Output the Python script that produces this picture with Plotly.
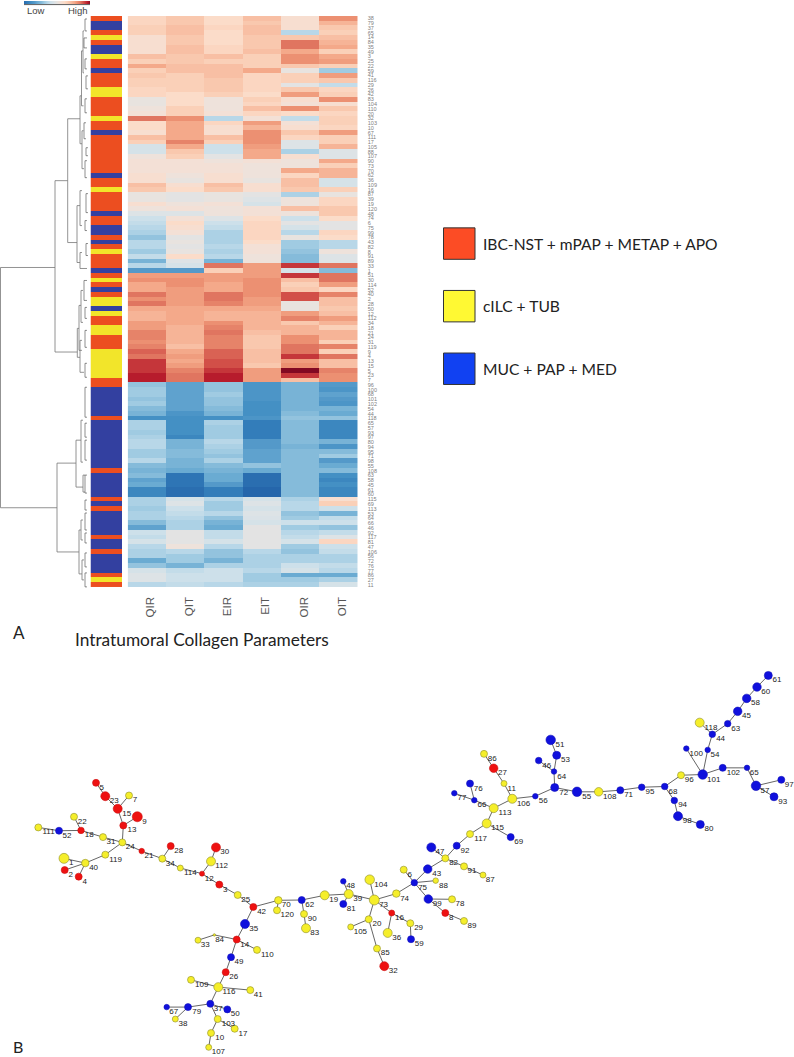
import plotly.graph_objects as go

W, H = 794, 1057

# ---------- heat map data ----------
columns = ["QIR", "QIT", "EIR", "EIT", "OIR", "OIT"]
row_labels = [38,79,37,65,14,84,35,49,3,25,22,59,41,116,29,26,42,83,104,110,20,32,103,10,67,111,17,105,88,107,
              90,73,70,62,36,109,16,87,39,19,120,48,74,6,75,99,78,43,82,8,91,89,33,1,51,30,114,52,40,2,
              28,50,12,112,34,18,21,24,31,119,9,4,13,15,5,23,7,96,100,68,101,102,54,44,118,65,57,93,97,80,
              94,95,71,98,55,108,63,58,45,61,60,115,69,113,53,64,66,46,92,117,81,47,106,56,72,76,77,86,27,11]
row_groups = list("O BB O Y O BB Y OO B OOO YY OOOO Y OO B OOOOOOOO B OO Y OOOO B OO BB O B O Y OOO B O Y O B O YY B Y OO YY OOO YYYYYY OO BBBBBB O BBBBBBBBBB O BBBBB O B O BBBBB O BB O BBBB O Y O".replace(" ", ""))
heat_rows = [
 [2.5,3.5,2,4,1.5,6],[2.5,3.5,2,3.5,1.5,4.5],[3,4,2.5,4,1.5,3.5],[3,4,2,4,-3,3],[1.5,3.5,2,3.5,3.5,4],
 [1.5,3.5,2,3.5,7,4.5],[1.5,4,2.5,3.5,7,5],[1.5,4,2.5,4,5,3],[4,3.5,4,3,6,5],[3,3.5,3,3,6,5.5],
 [5,4,4,3,3.5,3],[3,4,4,5,0,-4],[3.5,3,4,2.5,3,5.5],[3,3,3.5,2.5,3,3.5],[3,3,3.5,2.5,-0.5,-2.5],
 [2.5,3,3.5,2.5,3.5,2.5],[2.5,2,3,2,5.5,3],[0,2,0.5,3,1.5,6],[0,2,0.5,2.5,1,1.5],[0.5,3,0.5,4,6,3.5],
 [1,3,1,2.5,2,2.5],[7,6,-3,1,-2.5,3],[2,5,2.5,5.5,1,3],[2,5,1.5,4.5,1.5,2.5],[1.5,5,1.5,6,3.5,5.5],
 [4,5,4,6,2.5,3],[3,6.5,3,6,-1,3],[-1.5,5,-2,5.5,-1,4.5],[-1.5,3.5,-2,5,-3.5,-1],[0.5,3,-0.5,5,1.5,-1],
 [1,1,0.5,1,0.5,5],[1,1,1,0.5,0.5,3],[1,1,1,0.5,5,4.5],[1.5,0.5,1.5,0.5,2.5,4.5],[1.5,0,1.5,0,4,-1.5],
 [4,1.5,4,1.5,4,-1.5],[3.5,2,3.5,1.5,3.5,3],[0,-0.5,0,-0.5,-3.5,0],[0,-0.5,0,-1,0.5,2.5],[1.5,0.5,1,-1.5,0.5,2.5],
 [0.5,1,0.5,1,4,3.5],[-1,-1,0.5,1,0.5,3.5],[-2,1,-1,2,-2,2],[-2.5,2,-2,2.5,-0.5,-0.5],[-3,1.5,-2.5,2.5,-1.5,-0.5],
 [-3.5,1,-3.5,2.5,-3,2.5],[-4.5,-0.5,-3.5,2.5,0,2],[-3,0,-3.5,2,-4,-3],[-3,-0.5,-3,1,-4,-3],[-4,0,-3.5,1,-4.5,0.5],
 [-2.5,2,-3,0.5,-5,-1],[-5.5,-1,-5.5,0.5,-5,-1],[-3,-1.5,7,5.5,8.5,7],[-7,-7,3,5.5,-1.5,-5],[5.5,5.5,5.5,5.5,8.5,7],
 [6,6,5.5,6,4,7],[5,6,5,6,3,5.5],[5,5.5,5,6,3.5,2.5],[7,5.5,7,6,8,6.5],[6,5.5,7,5.5,8,4],
 [7,5.5,6.5,5.5,0,4],[5,5,5,5,0,3.5],[4.5,5,4.5,4.5,5.5,4],[4.5,5,4.5,4.5,6.5,5.5],[5.5,5,6,4.5,3.5,4.5],
 [5.5,4.5,6.5,4.5,4.5,3],[6.5,4.5,7,4,4.5,4.5],[6.5,4.5,6.5,3.5,6,4.5],[6,4.5,6.5,3.5,6,3],[6.5,4,6.5,3.5,7,6.5],
 [7.5,5,7.5,4,7,3],[7,5.5,7.5,4,8.5,7],[8.5,5,8,4,5.5,4],[8.5,5.5,8,3.5,6,4],[8.5,6.5,8.5,5.5,10,6.5],
 [9,7,9,5.5,8.5,6],[9,7,9,5.5,4,6],[-4.5,-6.5,-4.5,-7.5,-5.5,-7],[-4,-6.5,-4.5,-7.5,-5.5,-7.5],[-4,-6.5,-4,-7.5,-5.5,-6.5],
 [-4.5,-6.5,-4.5,-7.5,-5.5,-7],[-4,-6.5,-4.5,-8,-5.5,-7.5],[-5,-6.5,-5,-8,-5.5,-5.5],[-5.5,-7.5,-5.5,-8,-5,-6],[-8,-8,-8,-7.5,-4.5,-4.5],
 [-3.5,-8,-3.5,-9,-5,-8.5],[-3.5,-8,-4,-9,-5,-8.5],[-4,-8,-4,-9,-5,-8.5],[-3.5,-8.5,-4,-9,-5,-8.5],[-3,-5.5,-3,-7,-5,-5.5],
 [-3,-5.5,-3.5,-7,-5.5,-7.5],[-4,-5,-4,-6.5,-5,-5],[-4,-5,-4.5,-6.5,-5,-4],[-3,-5.5,-3.5,-6.5,-5,-7],[-5,-5.5,-5,-4.5,-5,-6],
 [-5.5,-6,-5.5,-6,-5,-5],[-5,-9.5,-6,-10,-5,-8],[-6.5,-9.5,-6,-10,-5,-8.5],[-6,-9.5,-7,-10,-5,-8],[-8.5,-10,-9,-10.5,-5,-8.5],
 [-8.5,-10,-9,-10.5,-5,-8.5],[-3.5,-1.5,-3,-1.5,-3.5,1.5],[-3.5,-1,-4,-1,-3,3],[-4,-2,-4,-1.5,-3,-2],[-3.5,-2.5,-3,-1,-4.5,-5.5],
 [-3.5,-3,-4.5,-1.2,-4,-2.5],[-5,-3.5,-5.5,-1.5,-2,-2],[-6.5,-3.5,-6,-0.5,-4,-4.5],[-2,-0.5,-2.5,-0.5,-3,-2.5],[-2.5,-0.5,-2.5,-0.5,-2.5,-1],
 [-1.5,-0.5,-1.5,-0.5,-1.5,2.5],[-3,0.5,-3,-0.5,-4,-2],[-3.5,-3,-4.5,-3,-4.5,-2.5],[-3.5,-4,-4.5,-3.5,-3.5,-3.5],[-6,-4,-5.5,-3.5,-3.5,-3.5],
 [-4.5,-5.5,-3.5,-3.5,-2,-2.5],[-1.5,-2.5,-2,-3,-1.5,-3],[-1,-2,-2,-4,-6,-6],[-1,-2,-2,-4,-4,-3.5],[-3,-2.5,-3,-3.5,-3.5,-1.5],
]
colorbar_levels = [-10,-9,-8,-7,-6,-5,-4,-3,-2,-1,0,1,2,3,4,5,6,7,8,9,10]

# ---------- dendrogram: (parent_x, top_y, top_child_x, bottom_y, bottom_child_x) ----------
dendro_main = [
 (0.5,267,55,507.7,57),(55,180,67.7,351.7,77.3),(67.7,118,80,242,77),(80,95,81.5,143,82),
 (81.5,50,83,105,83.5),(83,30,84,72,84),(82,130,83.5,168,84),(77,205,80,262,80),(80,190,82,225,82),
 (80,252,82,268,87),(77.3,328,79,357,80),(79,305,81,350,82),(81,290,83,322,83),(80,340,82,372,84),
 (57,463,76,552,79),(76,440,81,487,83),(81,420,83,462,83),(83,475,85,492,85),(79,530,81,574,82),
 (81,520,83,540,83),(82,560,84,580,84),
]
dendro_leaf = [
 (85,18,87,30,87),(84,37,87,47,87),(85,58,87,68,87),(86,75,88,88,88),(85,98,87,112,87),(84,122,86,138,86),
 (86,147,88,155,88),(85,160,87,177,87),(86,193,88,212,88),(85,220,87,230,87),(86,243,88,255,88),(84,280,87,300,87),
 (85,307,87,318,87),(85,330,87,347,87),(85,363,87,377,87),(85,387,87,417,87),(85,423,87,437,87),(85,440,87,460,87),
 (85,475,87,493,87),(85,500,87,510,87),(85,513,87,530,87),(85,533,87,543,87),(85,553,87,567,87),(85,573,87,587,87),
]

# ---------- network ----------
node_labels = [5,23,7,15,9,13,22,111,52,18,31,24,21,119,1,40,2,4,28,34,114,12,30,112,3,25,42,70,120,35,84,33,14,110,49,26,109,116,41,37,79,67,50,38,103,17,10,107,
 62,90,83,19,39,48,81,104,73,74,20,105,85,32,16,36,29,59,6,75,43,88,99,78,8,89,47,82,91,87,92,117,115,69,113,66,77,76,106,11,27,86,56,
 72,64,46,53,51,55,108,71,95,68,94,98,80,96,101,100,54,44,118,63,45,58,60,61,102,65,57,97,93]
node_x = [96,105.3,129,117.7,137.3,123.3,74,38.3,59,81,103,122.3,141.7,105.3,64,85.3,64.7,78.7,170.7,162.3,180.3,202,216,211,219.3,237.7,253.3,278.3,277,245,214.3,198,236.7,257,231,225.7,191,218.3,250.3,210.3,188,166.7,227.3,175.3,217.7,234.7,211,208.7,
 301.7,304,306,324.7,348.7,343.3,343.3,369.7,374.3,396.3,368.7,350.7,377,384.3,391.7,387.7,410.3,411,403.7,414.3,427.7,435.7,428.3,452,445.3,464,431.3,445.3,464,483,456.7,470,486.7,510.7,493.7,474.3,454.3,470,512.3,504,493.7,484,535.3,
 554.7,554,538.7,556.7,550.7,577,598.7,620.3,641.7,664.7,674.3,678,700.3,681,702.7,686.3,707.7,712.3,699.7,727.7,737.7,746.7,757,768.3,722.7,747,756,781.3,774]
node_y = [783.3,796.7,796,809.3,817.3,826,817.3,828,831.3,831,837.7,843,851.7,855.3,859,863.7,870.7,877.3,846.7,859.3,868.7,874.3,848,862,885.3,895.7,907.7,901,911,924.7,935.7,941,940.3,950.7,958,973,980.7,988,991,1004.7,1008,1008,1010.3,1020,1020,1029.7,1034,1048.3,
 900.7,914.7,929,896,894.7,882,904.7,880.3,900.7,894.3,920,927.7,949.3,967,913.7,933.7,924,940,870.3,883.3,869.7,881.3,899.7,900,913.7,921.7,848,859,867,875.7,846.3,834.7,824,837.7,808.7,800.7,793.7,784,799.3,784,768.7,754.3,796.7,
 788,772,761,755.7,740.3,792.3,792.3,790.7,787.7,787,801,816.7,825,775.7,775,749,750.3,734.7,723,724,711.7,698.7,687.3,675.7,768.3,768.3,786.3,780.3,797.3]
node_class = list("RRYRRRYYBRYYRYYYRRRYYRRYRYRYYBYYRYBRYYYBBBBYYYYY"
                  "BYYYYBBYYYYYYRRYYBYBBYBYRYBYYYBYYBYBBBYYRYB"
                  "BBBBBBYBBBBBBYBBBBYBBBBBBBBBB")
node_size = [7,9,7,9,10,7,7,7,7,6.5,7,7,5.5,7,10,7.5,7,7,7,7,6,5,9,9,7,7,7,7.5,7,9,2.5,6,7,7,7,7,7,9,7,7,7,5.5,7,6,7,7,7,6,
 7,7,9,9,9,5.5,7,9.5,10,7.5,7,6,7,9,6,9,7,7,7,6.5,8.5,5.5,8.5,7,7,7,9,7,7,6,7,7,9,7,9,5.5,5.5,7,9,6,8.5,7,5.5,
 8,5.5,6.5,8,9.5,9.5,8.5,7,6.5,6.5,6.5,9,8,7,9.5,5.5,5.5,6.5,9,6.5,8.5,8.5,8.5,8,7,5.5,9.5,7,8]
label_dx = [5.7,9,6,9,7.3,8.7,8.3,10.3,8,8.3,8,8,7.3,10.3,7.3,8.3,6,6,8,8,10,7.3,8.7,10.7,6,8,8.3,8,10.3,8.7,5.3,7.3,8,10.3,8,8,10.7,10.7,8,8,8.7,7,8,7.7,10.7,8.3,8.7,9.7,
 8,8.3,8.7,9,9,7.3,8,11.3,9.3,8.3,8.3,9.7,8.3,9,7.7,9,8.3,8.3,6,8.3,9,7.7,9,8,6,8,8.7,8.3,8,7.3,8.3,10.7,11,8,11.3,7.7,7.7,8.3,11.3,7.7,8.7,8.3,8,
 9,7.7,8,8.7,9.3,9.7,11,8.3,8.3,8.3,8.3,9.3,8.7,8.3,11,10,7.3,8.3,11.3,8,8.7,8.7,8.7,8.7,10.7,7.3,9,8,8.7]
edge_from = [5,23,7,15,9,13,111,52,22,18,31,24,119,1,2,4,24,21,28,34,114,12,112,12,3,25,42,70,42,35,14,84,14,14,49,26,109,116,116,37,79,79,37,37,103,103,10,
 70,62,90,62,19,39,39,39,73,73,73,20,20,85,73,16,16,29,74,75,75,75,75,99,99,8,43,82,82,91,82,92,117,115,115,113,66,66,113,106,11,27,106,56,
 72,64,64,53,72,55,108,71,95,68,94,98,68,96,101,101,54,44,44,63,45,58,60,101,102,65,57,57]
edge_to = [23,15,15,13,13,24,52,18,18,31,24,119,40,40,40,40,21,34,34,114,12,112,30,3,25,42,70,120,35,14,84,33,110,49,26,116,116,41,37,79,67,38,50,103,17,10,107,
 62,90,83,19,39,48,81,73,104,74,20,105,85,32,16,36,29,59,75,6,43,88,99,78,8,89,82,47,91,87,92,117,115,69,113,66,77,76,106,11,27,86,56,72,
 64,46,53,51,55,108,71,95,68,94,98,80,96,101,100,54,44,118,63,45,58,60,61,102,65,57,97,93]

legend_texts = ["IBC-NST + mPAP + METAP + APO", "cILC + TUB", "MUC + PAP + MED"]
legend_colors = ["#fc4c25", "#fff933", "#1141f2"]

# ---------- styles ----------
scale_stops = [(-10.5,"#2566ab"),(-9,"#337dba"),(-8,"#4490c4"),(-7,"#5499c9"),(-6,"#6aabd2"),(-5,"#85bbda"),(-4,"#a0cbe2"),
               (-3,"#b8d7e8"),(-2,"#cde0ea"),(-1,"#dde3e6"),(0,"#e8e3df"),(1,"#f3e0d6"),(2,"#fbdcc9"),(3,"#fad0b8"),(4,"#f8bfa4"),
               (5,"#f4a98a"),(6,"#ec9072"),(7,"#e07560"),(8,"#d24f48"),(9,"#b71c2c"),(10.5,"#67001f")]
colorscale = [[(v+10.5)/21, c] for v, c in scale_stops]
GROUP_IDX = {"O":0, "Y":1, "B":2}
BAR_COL = ["#ec4e20", "#f2e52a", "#3340a0"]
NODE_COL = {"R":"#ee1111", "Y":"#f5ee2a", "B":"#1010dd"}
NODE_LINE = {"R":"#cc1111", "Y":"#8d8d2a", "B":"#1010bb"}

def xdom(a, b): return [a/W, b/W]
def ydom(top, bot): return [1-bot/H, 1-top/H]

TOP, BOT = 15, 587.5
fig = go.Figure()
rows = list(range(len(row_labels)))

# annotation bar
fig.add_trace(go.Heatmap(z=[[GROUP_IDX[g]] for g in row_groups], x=[0], y=rows, xaxis="x", yaxis="y",
    colorscale=[[0,BAR_COL[0]],[0.33,BAR_COL[0]],[0.33,BAR_COL[1]],[0.66,BAR_COL[1]],[0.66,BAR_COL[2]],[1,BAR_COL[2]]],
    zmin=0, zmax=2, showscale=False, hoverinfo="skip"))
# main heat map
fig.add_trace(go.Heatmap(z=heat_rows, x=list(range(6)), y=rows, xaxis="x2", yaxis="y2", colorscale=colorscale,
    zmin=-10.5, zmax=10.5, showscale=False))
# colour key
fig.add_trace(go.Heatmap(z=[colorbar_levels], x=colorbar_levels, y=[0], xaxis="x3", yaxis="y3", colorscale=colorscale,
    zmin=-10.5, zmax=10.5, showscale=False, zsmooth="best", hoverinfo="skip"))

# dendrogram
def bracket_xy(items):
    xs, ys = [], []
    for p, t, a, b, c in items:
        xs += [a, p, p, c, None]
        ys += [t, t, b, b, None]
    return xs, ys
x_, y_ = bracket_xy(dendro_main)
fig.add_trace(go.Scatter(x=x_, y=y_, mode="lines", line=dict(color="#777777", width=0.8), xaxis="x4", yaxis="y4", hoverinfo="skip"))
x_, y_ = bracket_xy(dendro_leaf)
fig.add_trace(go.Scatter(x=x_, y=y_, mode="lines", line=dict(color="#444444", width=0.6), xaxis="x4", yaxis="y4", hoverinfo="skip"))

# network
pos = {l: (x, y) for l, x, y in zip(node_labels, node_x, node_y)}
ex, ey = [], []
for a, b in zip(edge_from, edge_to):
    ex += [pos[a][0], pos[b][0], None]
    ey += [pos[a][1], pos[b][1], None]
fig.add_trace(go.Scatter(x=ex, y=ey, mode="lines", line=dict(color="#666666", width=1), xaxis="x4", yaxis="y4", hoverinfo="skip"))
fig.add_trace(go.Scatter(x=node_x, y=node_y, mode="markers", xaxis="x4", yaxis="y4",
    marker=dict(size=node_size, opacity=1, color=[NODE_COL[c] for c in node_class], line=dict(color=[NODE_LINE[c] for c in node_class], width=0.6)),
    text=node_labels, hoverinfo="text"))
fig.add_trace(go.Scatter(x=[x+d for x, d in zip(node_x, label_dx)], y=[y+5 for y in node_y], text=[str(l) for l in node_labels],
    mode="text", textposition="middle center", textfont=dict(family="Liberation Sans", size=8, color="#222222"),
    xaxis="x4", yaxis="y4", hoverinfo="skip"))

# layout
shapes = []
anns = []
for i, (t, c) in enumerate(zip(legend_texts, legend_colors)):
    top = 227.3 + i*62.7
    shapes.append(dict(type="rect", xref="x4", yref="y4", x0=443.5, x1=475, y0=top, y1=top+31.5, fillcolor=c, line=dict(color="#333333", width=1)))
    anns.append(dict(xref="x4", yref="y4", x=481, y=top+16, text=t, showarrow=False, xanchor="left", yanchor="middle",
                     font=dict(family="Lato", size=15.6, color="#222222")))
shapes.append(dict(type="line", xref="x4", yref="y4", x0=24, x1=90, y0=3.6, y1=3.6, line=dict(color="#333333", width=0.8)))
def txt(x, y, t, size, color="#222222", family="Lato", anchor="left"):
    anns.append(dict(xref="x4", yref="y4", x=x, y=y, text=t, showarrow=False, xanchor=anchor, yanchor="middle",
                     font=dict(family=family, size=size, color=color)))
txt(24.5, 10, "Low", 9.5, "#444444", "Liberation Sans")
txt(90, 10, "High", 9.5, "#444444", "Liberation Sans", "right")
txt(11, 633, "A", 17)
txt(73, 640, "Intratumoral Collagen Parameters", 17.3)
txt(11, 1047, "B", 16)

hidden = dict(visible=False, fixedrange=True)
fig.update_layout(
    width=W, height=H, margin=dict(l=0, r=0, t=0, b=0), paper_bgcolor="white", plot_bgcolor="rgba(0,0,0,0)", showlegend=False,
    shapes=shapes, annotations=anns,
    xaxis=dict(domain=xdom(90.5, 122), range=[-0.5, 0.5], **hidden),
    yaxis=dict(domain=ydom(TOP, BOT), range=[119.5, -0.5], **hidden),
    xaxis2=dict(domain=xdom(127.7, 357.7), range=[-0.5, 5.5], anchor="y2", tickmode="array", tickvals=[i+0.1 for i in range(6)], ticktext=columns,
                tickangle=-90, ticks="outside", ticklen=4, tickcolor="rgba(0,0,0,0)", showgrid=False, zeroline=False, showline=False,
                tickfont=dict(family="Liberation Sans", size=11.5, color="#555555")),
    yaxis2=dict(domain=ydom(TOP, BOT), range=[119.5, -0.5], anchor="x2", side="right", tickmode="array", tickvals=rows, ticktext=row_labels,
                ticks="outside", ticklen=8, tickcolor="rgba(0,0,0,0)", showgrid=False, zeroline=False, showline=False,
                tickfont=dict(family="Liberation Sans", size=5.5, color="#808080")),
    xaxis3=dict(domain=xdom(24, 90), range=[-10, 10], anchor="y3", **hidden),
    yaxis3=dict(domain=ydom(0, 3.5), range=[-0.5, 0.5], anchor="x3", **hidden),
    xaxis4=dict(domain=[0, 1], range=[0, W], anchor="y4", **hidden),
    yaxis4=dict(domain=[0, 1], range=[H, 0], anchor="x4", **hidden),
)
assert len(row_labels) == len(row_groups) == len(heat_rows) == 120
assert len(node_labels) == len(node_x) == len(node_y) == len(node_size) == len(label_dx) == len(node_class)
fig.write_html("out.html", config={"displayModeBar": False},
               post_script="document.body.style.margin='0';document.body.style.overflow='hidden';")
